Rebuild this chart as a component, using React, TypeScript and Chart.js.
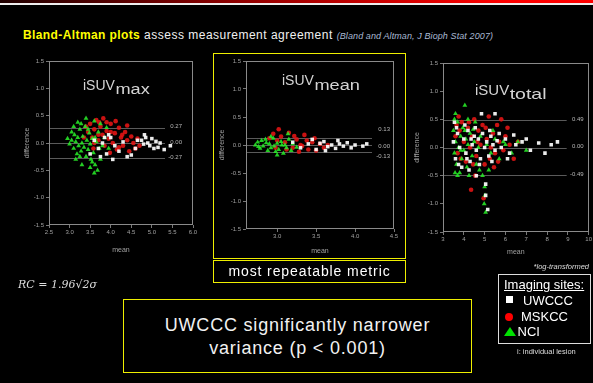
import React, { useEffect, useRef } from "react";
import { Chart, registerables } from "chart.js";

Chart.register(...registerables);

type Pt = [number, number];

// ---------- iSUVmax ----------
const maxUWCCC: Pt[] = [
  [3.6, 0.05], [3.7, -0.1], [3.8, 0.0], [3.9, -0.2], [4.0, 0.1], [4.1, -0.05], [4.2, -0.15], [4.3, 0.02],
  [4.5, -0.22], [4.75, 0.05], [4.8, -0.02], [4.85, 0.1], [4.9, 0.0], [4.95, -0.05], [5.0, 0.08], [5.05, -0.1],
  [5.1, 0.03], [5.15, -0.08], [5.2, 0.0], [5.3, -0.12], [5.45, -0.05], [4.82, 0.15], [3.5, -0.2], [3.95, 0.15],
  [4.4, -0.25], [4.05, -0.3], [3.75, -0.25], [4.6, -0.1], [4.65, 0.05], [3.85, 0.1],
];
const maxMSKCC: Pt[] = [
  [3.45, 0.2], [3.5, 0.35], [3.55, 0.1], [3.6, 0.25], [3.65, 0.42], [3.7, 0.05], [3.75, 0.3], [3.8, 0.15],
  [3.85, -0.05], [3.9, 0.22], [3.95, 0.08], [4.0, 0.35], [4.05, 0.0], [4.1, 0.18], [4.15, -0.12], [4.2, 0.28],
  [4.25, 0.1], [4.3, -0.05], [4.35, 0.2], [4.4, 0.05], [4.45, -0.15], [4.5, 0.12], [4.55, 0.0], [4.6, -0.1],
  [4.65, 0.08], [3.4, 0.3], [3.58, -0.1], [3.72, 0.38], [3.98, -0.18], [4.12, 0.4], [4.28, 0.15], [3.82, 0.45],
  [4.7, -0.05], [3.35, 0.1], [3.6, 0.0], [3.9, 0.38], [4.2, -0.08], [4.4, 0.32], [4.0, 0.2], [3.7, 0.15],
];
const maxNCI: Pt[] = [
  [3.05, 0.05], [3.1, -0.1], [3.12, 0.15], [3.15, 0.02], [3.18, -0.2], [3.2, 0.1], [3.22, -0.05], [3.25, 0.25],
  [3.28, -0.15], [3.3, 0.0], [3.32, 0.12], [3.35, -0.08], [3.38, 0.3], [3.4, -0.25], [3.42, 0.05], [3.45, -0.12],
  [3.48, 0.18], [3.5, -0.02], [3.52, -0.3], [3.55, 0.08], [3.58, -0.18], [3.6, 0.4], [3.62, -0.4], [3.65, 0.02],
  [3.68, -0.5], [3.7, 0.2], [3.72, -0.1], [3.75, 0.35], [3.8, -0.05], [3.85, 0.1], [3.0, -0.02], [2.95, 0.08],
  [3.15, -0.3], [3.28, 0.35], [3.5, -0.45], [3.9, 0.28], [3.6, -0.55], [3.05, 0.2], [3.4, 0.45], [3.95, -0.1],
  [3.1, 0.3], [3.25, -0.25], [3.45, 0.25], [3.55, -0.35], [3.3, -0.4], [3.75, -0.3], [3.62, 0.1], [3.2, 0.38],
];
const maxLimits = [0.27, 0.0, -0.27];
const maxLimitLabels = ["0.27", "0.00", "-0.27"];
const maxLabelAt = [0.3, 0.02, -0.26];

// ---------- iSUVmean ----------
const meanUWCCC: Pt[] = [
  [3.2, 0.05], [3.3, -0.05], [3.4, 0.02], [3.5, -0.08], [3.55, 0.03], [3.6, 0.06], [3.65, -0.03], [3.7, 0.0],
  [3.75, -0.06], [3.8, 0.02], [3.85, -0.02], [3.9, 0.04], [3.95, -0.05], [4.0, 0.0], [4.1, -0.02], [4.15, 0.02],
  [3.45, 0.1], [3.62, -0.1], [3.78, 0.08],
];
const meanMSKCC: Pt[] = [
  [2.9, 0.12], [2.95, 0.2], [3.0, 0.08], [3.05, 0.15], [3.1, 0.05], [3.15, 0.22], [3.2, -0.05], [3.25, 0.1],
  [3.3, 0.0], [3.35, 0.18], [3.4, -0.08], [3.45, 0.05], [3.5, -0.1], [3.55, 0.02], [3.6, -0.05], [3.28, -0.12],
  [3.12, -0.08], [3.38, 0.08], [3.02, 0.28], [3.22, 0.16], [3.48, 0.12], [3.65, 0.0], [3.32, -0.02], [2.98, -0.05],
];
const meanNCI: Pt[] = [
  [2.72, 0.0], [2.75, 0.05], [2.78, -0.06], [2.8, 0.08], [2.82, -0.02], [2.85, 0.1], [2.88, -0.1], [2.9, 0.02],
  [2.92, -0.05], [2.95, 0.12], [2.98, -0.12], [3.0, 0.03], [3.02, -0.08], [3.05, 0.06], [3.08, -0.15], [3.1, 0.0],
  [3.12, -0.05], [3.15, 0.1], [3.18, -0.1], [3.2, 0.02], [2.86, 0.04], [2.96, -0.02], [3.06, 0.0], [2.76, -0.03],
  [3.25, -0.04], [2.92, 0.15], [3.0, -0.18], [3.14, 0.2],
];
const meanLimits = [0.13, 0.0, -0.13];
const meanLimitLabels = ["0.13", "0.00", "-0.13"];
const meanLabelAt = [0.28, -0.02, -0.21];

// ---------- iSUVtotal ----------
const totalUWCCC: Pt[] = [
  [3.5, 0.1], [3.6, -0.2], [3.7, 0.25], [3.8, 0.0], [3.9, -0.35], [4.0, 0.15], [4.1, -0.1], [4.2, 0.3],
  [4.3, -0.25], [4.4, 0.05], [4.5, 0.2], [4.6, -0.05], [4.7, 0.15], [4.8, -0.2], [4.9, 0.25], [5.0, 0.0],
  [5.1, 0.1], [5.2, -0.15], [5.3, 0.2], [5.4, 0.05], [5.5, -0.05], [5.6, 0.12], [5.8, 0.0], [6.0, 0.15],
  [6.2, -0.1], [6.5, 0.05], [6.8, 0.1], [7.2, -0.05], [7.6, 0.08], [8.2, 0.05], [8.5, 0.1], [4.85, 0.6],
  [5.5, 0.6], [5.15, -1.1], [4.6, -0.5], [3.55, 0.45], [4.25, -0.4], [7.9, -0.1], [5.05, -0.65],
  [3.65, 0.35], [3.75, -0.3], [4.05, 0.4], [4.15, -0.2], [4.35, 0.15], [4.55, 0.35], [4.75, -0.3], [5.25, 0.3],
  [5.35, -0.25], [5.7, 0.25], [6.1, -0.2], [6.4, 0.22], [7.0, 0.15], [5.05, -0.85],
];
const totalMSKCC: Pt[] = [
  [3.6, 0.2], [3.7, -0.1], [3.8, 0.3], [3.9, 0.45], [4.0, 0.1], [4.1, -0.25], [4.2, 0.35], [4.3, 0.0],
  [4.4, 0.2], [4.5, 0.5], [4.6, -0.15], [4.7, 0.3], [4.8, 0.05], [4.9, 0.4], [5.0, -0.3], [5.1, 0.15],
  [5.2, 0.55], [5.3, 0.0], [5.4, 0.25], [5.5, -0.1], [5.6, 0.4], [5.7, 0.1], [5.8, 0.5], [5.9, -0.05],
  [6.0, 0.2], [6.2, 0.05], [6.4, -0.2], [6.6, 0.1], [4.55, -0.5], [4.95, -0.9], [4.35, -0.75], [3.75, 0.55],
  [5.45, -0.35], [3.65, 0.4], [3.85, -0.2], [4.25, 0.45], [4.65, 0.1], [5.05, 0.35], [5.25, -0.2], [5.65, -0.25],
  [6.1, 0.35], [4.45, -0.3],
];
const totalNCI: Pt[] = [
  [3.5, 0.3], [3.55, -0.1], [3.6, 0.1], [3.65, -0.3], [3.7, 0.45], [3.75, 0.0], [3.8, -0.45], [3.85, 0.2],
  [3.9, -0.2], [3.95, 0.35], [4.0, -0.05], [4.1, 0.15], [4.15, -0.35], [4.2, 0.05], [4.3, 0.25], [4.4, -0.15],
  [4.5, 0.1], [4.6, -0.3], [4.7, 0.0], [4.8, 0.2], [4.9, -0.5], [5.0, -0.7], [5.02, -0.85], [4.98, -1.0],
  [5.1, 0.05], [5.3, -0.1], [5.5, 0.15], [5.7, -0.2], [6.0, 0.05], [6.3, -0.1], [6.6, 0.1], [3.6, 0.6],
  [4.2, 0.5], [3.58, -0.45], [4.45, 0.32], [5.2, -0.4], [7.0, -0.05], [4.05, 0.75], [3.55, 0.5], [3.7, -0.5],
  [3.85, -0.05], [4.05, 0.3], [4.25, -0.5], [4.55, 0.45], [4.75, -0.4], [5.05, -1.15], [5.4, 0.3], [5.9, 0.1],
];
const totalLimits = [0.49, 0.0, -0.49];
const totalLimitLabels = ["0.49", "0.00", "-0.49"];
const totalLabelAt = [0.5, 0.02, -0.48];

const yMin = -1.5;
const yMax = 1.5;
const yStep = 0.5;

const legendSites = ["UWCCC", "MSKCC", "NCI"];

type PanelCfg = {
  left: number; top: number; width: number; height: number;
  yw: number; pr: number;
  xMin: number; xMax: number; xStep: number; xDec: number;
  title: string; sub: string; tdx: number; tdy: number; sdy: number; tsize: number;
  uw: Pt[]; msk: Pt[]; nci: Pt[];
  limits: number[]; limitLabels: string[]; labelAt: number[]; labelInset: number; lineEnd: number;
  xTitlePad: number; yTitlePad: number;
};

const panels: PanelCfg[] = [
  {
    left: 18, top: 52, width: 190, height: 209, yw: 31, pr: 15,
    xMin: 2.5, xMax: 6.0, xStep: 0.5, xDec: 1,
    title: "iSUV", sub: "max", tdx: 34, tdy: 29, sdy: 33, tsize: 14,
    uw: maxUWCCC, msk: maxMSKCC, nci: maxNCI,
    limits: maxLimits, limitLabels: maxLimitLabels, labelAt: maxLabelAt, labelInset: 11, lineEnd: 28,
    xTitlePad: 7, yTitlePad: 5,
  },
  {
    left: 215, top: 52, width: 187, height: 213, yw: 31, pr: 8,
    xMin: 2.6, xMax: 4.5, xStep: 0.5, xDec: 1,
    title: "iSUV", sub: "mean", tdx: 36, tdy: 24, sdy: 29, tsize: 14,
    uw: meanUWCCC, msk: meanMSKCC, nci: meanNCI,
    limits: meanLimits, limitLabels: meanLimitLabels, labelAt: meanLabelAt, labelInset: 4, lineEnd: 22,
    xTitlePad: 10, yTitlePad: 3,
  },
  {
    left: 412, top: 54, width: 181, height: 214, yw: 31, pr: 3,
    xMin: 3, xMax: 10, xStep: 1, xDec: 0,
    title: "iSUV", sub: "total", tdx: 32, tdy: 32, sdy: 36, tsize: 15,
    uw: totalUWCCC, msk: totalMSKCC, nci: totalNCI,
    limits: totalLimits, limitLabels: totalLimitLabels, labelAt: totalLabelAt, labelInset: 5, lineEnd: 22,
    xTitlePad: 12, yTitlePad: 1,
  },
];

const FONT = '"Liberation Sans", Arial, sans-serif';
const TICK = "#a0a0a0";

function Panel({ cfg }: { cfg: PanelCfg }) {
  const ref = useRef<HTMLCanvasElement>(null);
  useEffect(() => {
    if (!ref.current) return;
    const deco = {
      id: "deco",
      beforeDatasetsDraw(chart: any) {
        const { ctx, chartArea: a, scales } = chart;
        const y = scales.y;
        ctx.save();
        ctx.strokeStyle = "rgba(150,150,150,0.6)";
        ctx.lineWidth = 1;
        cfg.limits.forEach((v) => {
          const py = Math.round(y.getPixelForValue(v)) + 0.5;
          ctx.beginPath();
          ctx.moveTo(a.left, py);
          ctx.lineTo(a.right - cfg.lineEnd, py);
          ctx.stroke();
        });
        ctx.restore();
      },
      afterDraw(chart: any) {
        const { ctx, chartArea: a, scales } = chart;
        const y = scales.y;
        ctx.save();
        ctx.strokeStyle = "#8a8a8a";
        ctx.lineWidth = 1;
        ctx.strokeRect(Math.round(a.left) + 0.5, Math.round(a.top) + 0.5, Math.round(a.right - a.left) - 1, Math.round(a.bottom - a.top) - 1);
        ctx.fillStyle = "#b8b8b8";
        ctx.font = `6px ${FONT}`;
        ctx.textAlign = "right";
        ctx.textBaseline = "middle";
        cfg.limitLabels.forEach((t, i) => {
          ctx.fillText(t, a.right - cfg.labelInset, y.getPixelForValue(cfg.labelAt[i]));
        });
        ctx.textAlign = "left";
        ctx.textBaseline = "alphabetic";
        ctx.fillStyle = "#d4d4d4";
        ctx.font = `${cfg.tsize}px ${FONT}`;
        const x0 = a.left + cfg.tdx;
        ctx.fillText(cfg.title, x0, a.top + cfg.tdy);
        const w = ctx.measureText(cfg.title).width;
        ctx.translate(x0 + w + 0.5, a.top + cfg.sdy);
        ctx.scale(1.3, 1);
        ctx.fillText(cfg.sub, 0, 0);
        ctx.restore();
      },
    };
    const toXY = (arr: Pt[]) => arr.map(([x, yv]) => ({ x, y: yv }));
    const chart = new Chart(ref.current, {
      type: "scatter",
      data: {
        datasets: [
          {
            label: legendSites[0], data: toXY(cfg.uw), pointStyle: "rect", pointRadius: 2.5,
            backgroundColor: "rgba(255,255,255,0.92)", borderWidth: 0, borderColor: "rgba(0,0,0,0)",
          },
          {
            label: legendSites[2], data: toXY(cfg.nci), pointStyle: "triangle", pointRadius: 2.8,
            backgroundColor: "rgba(40,235,40,0.88)", borderWidth: 0, borderColor: "rgba(0,0,0,0)",
          },
          {
            label: legendSites[1], data: toXY(cfg.msk), pointStyle: "circle", pointRadius: 2.3,
            backgroundColor: "rgba(230,20,20,0.88)", borderWidth: 0, borderColor: "rgba(0,0,0,0)",
          },
        ],
      },
      options: {
        responsive: false,
        animation: false,
        devicePixelRatio: 1,
        events: [],
        layout: { padding: { top: 9, right: cfg.pr, left: 0, bottom: 0 } },
        plugins: { legend: { display: false }, tooltip: { enabled: false } },
        scales: {
          x: {
            type: "linear",
            min: cfg.xMin,
            max: cfg.xMax,
            afterFit: (s: any) => { s.height = 36; },
            ticks: {
              stepSize: cfg.xStep,
              includeBounds: false,
              autoSkip: false,
              maxRotation: 0,
              padding: 1,
              color: TICK,
              font: { size: 6, family: FONT },
              callback: (v: any) => Number(v).toFixed(cfg.xDec),
            },
            grid: { display: true, drawOnChartArea: false, color: "#777", tickLength: 3 },
            border: { display: false },
            title: { display: true, text: "mean", color: TICK, font: { size: 7, family: FONT }, padding: { top: 0, bottom: cfg.xTitlePad } },
          },
          y: {
            type: "linear",
            min: yMin,
            max: yMax,
            afterFit: (s: any) => { s.width = cfg.yw; },
            ticks: {
              stepSize: yStep,
              autoSkip: false,
              padding: 2,
              color: TICK,
              font: { size: 6, family: FONT },
              callback: (v: any) => Number(v).toFixed(1),
            },
            grid: { display: true, drawOnChartArea: false, color: "#777", tickLength: 3 },
            border: { display: false },
            title: { display: true, text: "difference", color: TICK, font: { size: 7, family: FONT }, padding: { top: cfg.yTitlePad, bottom: 0 } },
          },
        },
      },
      plugins: [deco],
    } as any);
    return () => chart.destroy();
  }, []);
  return (
    <canvas
      ref={ref}
      width={cfg.width}
      height={cfg.height}
      style={{ position: "absolute", left: cfg.left, top: cfg.top, width: cfg.width, height: cfg.height }}
    />
  );
}

export default function App() {
  const abs = (o: React.CSSProperties): React.CSSProperties => ({ position: "absolute", whiteSpace: "nowrap", ...o });
  return (
    <div style={{ position: "fixed", left: 0, top: 0, width: 593, height: 383, background: "#000", overflow: "hidden", fontFamily: FONT, color: "#fff" }}>
      <div style={abs({ left: 0, top: 0, width: 593, height: 3, background: "linear-gradient(to right, #200000, #900000 40%, #ff0000 85%)" })} />
      <div style={abs({ left: 0, top: 3, width: 593, height: 2, background: "#eeeeee" })} />

      <div style={abs({ left: 23, top: 28, fontSize: 12, lineHeight: "14px" })}>
        <span style={{ color: "#ffff00", fontWeight: "bold", letterSpacing: 0.4 }}>Bland-Altman plots</span>
        <span style={{ color: "#f0f0f0", letterSpacing: 0.5 }}> assess measurement agreement </span>
        <span style={{ color: "#a9b9d4", fontStyle: "italic", fontSize: 9, letterSpacing: 0.1 }}>(Bland and Altman, J Bioph Stat 2007)</span>
      </div>

      {panels.map((p, i) => <Panel key={i} cfg={p} />)}

      <div style={abs({ left: 213, top: 53, width: 193, height: 206, border: "1.5px solid #eeee00", boxSizing: "border-box" })} />
      <div style={abs({ left: 213, top: 260, width: 193, height: 23, border: "1.5px solid #eeee00", boxSizing: "border-box", fontSize: 14, lineHeight: "20px", textAlign: "center", letterSpacing: 0.9 })}>
        most repeatable metric
      </div>

      <div style={abs({ left: 18, top: 278, fontSize: 11, fontStyle: "italic", fontFamily: '"DejaVu Serif", serif', color: "#dddddd" })}>
        RC = 1.96√2σ
      </div>

      <div style={abs({ left: 123, top: 299, width: 349, height: 74, border: "1.5px solid #eeee00", boxSizing: "border-box", textAlign: "center", fontSize: 18, lineHeight: "23px", letterSpacing: 0.8, paddingTop: 14, color: "#f2f2f2" })}>
        UWCCC significantly narrower<br />variance (p &lt; 0.001)
      </div>

      <div style={abs({ left: 530, top: 262, width: 59, textAlign: "right", fontSize: 7.5, fontStyle: "italic", color: "#dddddd" })}>*log-transformed</div>

      <div style={abs({ left: 498, top: 274, width: 93, height: 70, border: "1.5px solid #dddddd", boxSizing: "border-box" })}>
        <div style={abs({ left: 5, top: 2, fontSize: 13, textDecoration: "underline" })}>Imaging sites:</div>
        <div style={abs({ left: 7, top: 21, width: 7, height: 7, background: "#fff" })} />
        <div style={abs({ left: 24, top: 18, fontSize: 13 })}>{legendSites[0]}</div>
        <div style={abs({ left: 6, top: 38, width: 8, height: 8, borderRadius: 4, background: "#ff0000" })} />
        <div style={abs({ left: 22, top: 34, fontSize: 13 })}>{legendSites[1]}</div>
        <div style={abs({ left: 5, top: 52, width: 0, height: 0, borderLeft: "6px solid transparent", borderRight: "6px solid transparent", borderBottom: "9px solid #00e000" })} />
        <div style={abs({ left: 18.5, top: 49, fontSize: 13 })}>{legendSites[2]}</div>
      </div>
      <div style={abs({ left: 517, top: 347, fontSize: 7.5, color: "#dddddd" })}>i: individual lesion</div>
    </div>
  );
}
